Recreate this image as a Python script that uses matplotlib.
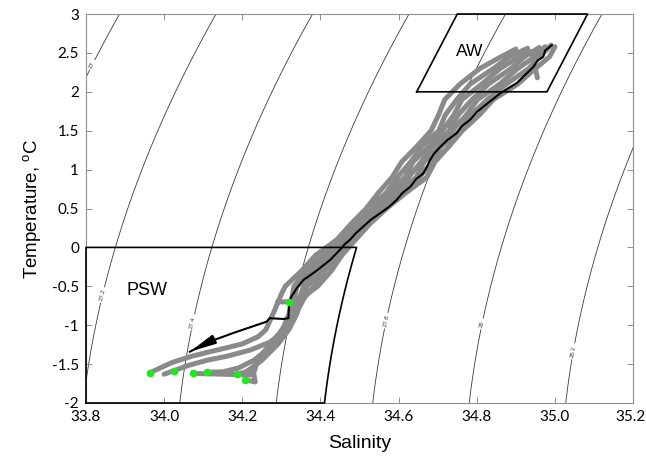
import numpy as np
import matplotlib
matplotlib.use("Agg")
import matplotlib.pyplot as plt
import matplotlib.transforms as mtransforms

plt.rcParams['mathtext.fontset'] = 'custom'
plt.rcParams['mathtext.rm'] = 'Liberation Sans'

# ---------------- data ----------------
xticks = [33.8, 34.0, 34.2, 34.4, 34.6, 34.8, 35.0, 35.2]
yticks = [-2, -1.5, -1, -0.5, 0, 0.5, 1, 1.5, 2, 2.5, 3]
ytick_labels = ["-2", "-1.5", "-1", "-0.5", "0", "0.5", "1", "1.5", "2", "2.5", "3"]

# simple equation of state coefficients (sigma-theta approximation)
eos_a, eos_b, eos_c, eos_d = -0.1724, 0.81, 0.0187, 0.00727
sigma_levels = [27.0, 27.2, 27.4, 27.6, 27.8, 28.0, 28.2]

# water mass definitions
psw_smin, psw_tmax, psw_sigma = 33.8, 0.0, 27.70
aw_tmin, aw_tmax, aw_sig_lo, aw_sig_hi = 2.0, 3.0, 27.70, 27.97

# common temperature levels of the upper part of the gray profiles
t_up = [-0.5, -0.3, -0.1, 0.1, 0.3, 0.5, 0.7, 0.9, 1.1, 1.3, 1.5, 1.7, 1.9, 2.1, 2.3, 2.45]

p1_s = [33.964, 34.02, 34.07, 34.11, 34.16, 34.20, 34.24, 34.26, 34.27, 34.28, 34.29, 34.30,
        34.31, 34.352, 34.388, 34.442, 34.478, 34.517, 34.548, 34.583, 34.608, 34.647, 34.683, 34.702, 34.718,
        34.757, 34.808, 34.862, 34.90]
p1_t = [-1.61, -1.48, -1.40, -1.35, -1.29, -1.24, -1.15, -1.06, -0.95, -0.84, -0.72, -0.60] + t_up + [2.55]

p2_s = [34.00, 34.025, 34.06, 34.11, 34.16, 34.22, 34.27, 34.30, 34.31, 34.32, 34.325,
        34.332, 34.363, 34.407, 34.447, 34.493, 34.523, 34.568, 34.597, 34.631, 34.659, 34.703, 34.719, 34.749,
        34.783, 34.843, 34.883, 34.93]
p2_t = [-1.63, -1.585, -1.52, -1.45, -1.40, -1.32, -1.22, -1.10, -0.97, -0.85, -0.70] + t_up + [2.56]

p3_s = [34.075, 34.15, 34.22, 34.23, 34.237, 34.27, 34.30, 34.32, 34.33,
        34.340, 34.381, 34.412, 34.461, 34.495, 34.537, 34.573, 34.616, 34.637, 34.678, 34.712, 34.741, 34.762,
        34.813, 34.860, 34.908, 34.94, 34.945, 34.95, 34.955]
p3_t = [-1.62, -1.63, -1.64, -1.60, -1.49, -1.30, -1.10, -0.90, -0.72] + t_up + [2.52, 2.42, 2.30, 2.18]

p4_s = [34.109, 34.15, 34.19, 34.23, 34.26, 34.29, 34.31, 34.33, 34.34,
        34.357, 34.387, 34.428, 34.462, 34.508, 34.540, 34.591, 34.625, 34.658, 34.685, 34.731, 34.752, 34.788,
        34.830, 34.888, 34.922, 34.96]
p4_t = [-1.605, -1.60, -1.55, -1.45, -1.33, -1.18, -1.02, -0.88, -0.74] + t_up + [2.57]

p5_s = [34.186, 34.21, 34.25, 34.29, 34.32, 34.34, 34.35,
        34.366, 34.405, 34.433, 34.476, 34.510, 34.553, 34.596, 34.645, 34.665, 34.703, 34.737, 34.773, 34.802,
        34.859, 34.905, 34.948, 34.975]
p5_t = [-1.63, -1.60, -1.45, -1.25, -1.05, -0.85, -0.68] + t_up + [2.58]

p6_s = [34.207, 34.233, 34.228, 34.245, 34.28, 34.31, 34.34, 34.36,
        34.384, 34.411, 34.449, 34.478, 34.523, 34.556, 34.613, 34.653, 34.685, 34.710, 34.756, 34.785, 34.827,
        34.876, 34.933, 34.961, 34.99]
p6_t = [-1.70, -1.73, -1.58, -1.40, -1.20, -1.00, -0.82, -0.64] + t_up + [2.60]

p7_s = [34.29, 34.32, 34.36,
        34.393, 34.428, 34.455, 34.490, 34.526, 34.569, 34.618, 34.672, 34.693, 34.729, 34.763, 34.806, 34.842,
        34.905, 34.950, 34.986, 35.00]
p7_t = [-0.70, -0.70, -0.62] + t_up + [2.58]

gray_profiles = [(p1_s, p1_t), (p2_s, p2_t), (p3_s, p3_t), (p4_s, p4_t),
                 (p5_s, p5_t), (p6_s, p6_t), (p7_s, p7_t)]

black_s = [34.992, 34.975, 34.97, 34.955, 34.945, 34.92, 34.902, 34.885, 34.86, 34.84, 34.817, 34.80, 34.783,
           34.762, 34.749, 34.725, 34.706, 34.69, 34.68, 34.672, 34.663, 34.645, 34.63, 34.61, 34.595, 34.575,
           34.553, 34.53, 34.51, 34.49, 34.476, 34.462, 34.45, 34.425, 34.39, 34.356, 34.34, 34.326, 34.32,
           34.318, 34.305, 34.27, 34.262, 34.177, 34.117, 34.066]
black_t = [2.60, 2.53, 2.45, 2.40, 2.32, 2.20, 2.11, 2.06, 1.98, 1.90, 1.81, 1.74, 1.64,
           1.56, 1.47, 1.38, 1.29, 1.20, 1.12, 1.03, 0.95, 0.88, 0.78, 0.70, 0.61, 0.52,
           0.44, 0.36, 0.27, 0.18, 0.10, 0.04, -0.03, -0.16, -0.30, -0.42, -0.52, -0.63, -0.70,
           -0.91, -0.92, -0.91, -0.955, -1.10, -1.21, -1.34]

dot_s = [33.964, 34.025, 34.075, 34.109, 34.186, 34.207, 34.32]
dot_t = [-1.61, -1.585, -1.62, -1.605, -1.63, -1.70, -0.70]


def sigma(S, T):
    return eos_a + eos_b * S - eos_c * (T + 2) - eos_d * (T + 2) ** 2


def s_on_sigma(sig, T):
    T = np.asarray(T, dtype=float)
    return (sig - eos_a + eos_c * (T + 2) + eos_d * (T + 2) ** 2) / eos_b


# ---------------- figure ----------------
fig = plt.figure(figsize=(6.46, 4.58), dpi=100)
ax = fig.add_axes([0.1331, 0.1201, 0.8469, 0.8493])
ax.set_xlim(33.8, 35.2)
ax.set_ylim(-2, 3)

SS, TT = np.meshgrid(np.linspace(33.6, 35.4, 300), np.linspace(-2.5, 3.5, 300))
cs = ax.contour(SS, TT, sigma(SS, TT), levels=sigma_levels, colors='#3a3a3a', linewidths=0.6, zorder=1)
ax.set_xlim(33.8, 35.2)
ax.set_ylim(-2, 3)
label_pos = [(33.818, 2.34), (33.84, -0.61), (34.066, -0.955), (34.557, -0.93), (34.80, -0.97), (35.029, -1.32)]
ax.clabel(cs, fmt='%g', fontsize=4, inline=True, inline_spacing=2, manual=label_pos)

# gray profiles
for s, t in gray_profiles:
    ax.plot(s, t, color='#8a8a8a', lw=3.6, solid_joinstyle='round', solid_capstyle='round', zorder=2)

# water mass boxes
tp = np.linspace(-2.0, psw_tmax, 30)
sp = s_on_sigma(psw_sigma, tp)
psw_x = np.concatenate([[psw_smin, psw_smin], sp[::-1], [psw_smin]])
psw_y = np.concatenate([[-2.0, psw_tmax], tp[::-1], [-2.0]])
ax.plot(psw_x, psw_y, color='k', lw=1.2, clip_on=False, zorder=3)

aw_x = [s_on_sigma(aw_sig_lo, aw_tmin), s_on_sigma(aw_sig_lo, aw_tmax), s_on_sigma(aw_sig_hi, aw_tmax),
        s_on_sigma(aw_sig_hi, aw_tmin), s_on_sigma(aw_sig_lo, aw_tmin)]
aw_y = [aw_tmin, aw_tmax, aw_tmax, aw_tmin, aw_tmin]
ax.plot(aw_x, aw_y, color='k', lw=1.2, clip_on=False, zorder=3)

# black profile with arrow
ax.plot(black_s, black_t, color='k', lw=1.5, zorder=4)
ax.annotate('', xy=(black_s[-1], black_t[-1]), xytext=(black_s[-2], black_t[-2]),
            arrowprops=dict(arrowstyle='-|>,head_length=1.1,head_width=0.2', color='k', lw=1.5,
                            mutation_scale=14, shrinkA=0, shrinkB=0), zorder=4)

ax.plot(dot_s, dot_t, 'o', color='#22e622', ms=5.5, mec='none', zorder=5)

ax.text(33.955, -0.556, 'PSW', fontsize=13, family='Liberation Sans', ha='center', va='center')
ax.text(34.781, 2.515, 'AW', fontsize=12.5, family='Liberation Sans', ha='center', va='center')

ax.set_xticks(xticks)
ax.set_xticklabels([f'{v:.1f}' for v in xticks])
ax.set_yticks(yticks)
ax.set_yticklabels(ytick_labels)
ax.tick_params(direction='in', length=4, width=0.6, color='#808080', top=True, right=True,
               labelsize=11, pad=5)
for lab in ax.get_xticklabels() + ax.get_yticklabels():
    lab.set_family('Lato')
for sp_ in ax.spines.values():
    sp_.set_color('#909090')
    sp_.set_linewidth(0.8)

# keep the last x tick label inside the figure
last_lab = ax.xaxis.get_majorticklabels()[-1]
last_lab.set_horizontalalignment('right')
last_lab.set_transform(last_lab.get_transform() +
                       mtransforms.ScaledTranslation(0.13, 0, fig.dpi_scale_trans))

ax.set_xlabel('Salinity', fontsize=14, family='Liberation Sans', labelpad=8)
ax.set_ylabel(r'Temperature, $^{\rm o}$C', fontsize=13.5, family='Liberation Sans', labelpad=6)

fig.savefig('out.png', dpi=100)
